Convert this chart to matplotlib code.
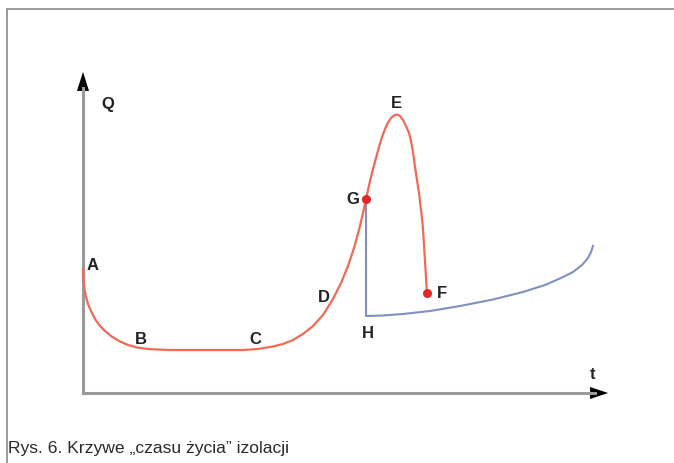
import matplotlib.pyplot as plt
from matplotlib.patches import FancyArrow

# Curve points (t, Q), origin at the axes corner
red_t = [0, 0.5, 1.5, 3, 5, 8, 12, 17, 22, 28, 36, 45, 54, 65, 85, 120,
         160, 175, 190, 200, 210, 220, 230, 240, 250, 258, 265, 271, 276,
         280, 283, 287, 290, 293, 296, 299, 302, 305, 308, 311, 314, 317,
         320, 323, 326, 328, 330, 332, 334, 336, 338, 339.5, 340.5, 341.5,
         342.5, 343.3, 344]
red_q = [124, 114, 104, 96, 89, 82, 74, 67, 62, 57, 52, 48, 45.5, 44, 43,
         43, 43, 44, 46.5, 49, 53, 59, 67, 78, 94, 110, 127, 145, 163, 180,
         194, 212, 224, 235, 246, 256, 264, 270.5, 275, 277.5, 278.5, 277,
         273, 267, 260, 252, 241, 226, 213, 200, 183, 170, 156, 140, 124,
         110, 100]

blue_t = [283, 283, 300, 320, 347, 377, 410, 440, 462, 478, 490, 499, 505,
          508, 510]
blue_q = [194, 77, 77.5, 79, 82, 87, 93.5, 101, 108, 115, 121, 128, 135,
          141, 147]

# marked points G and F
dot_t = [283, 344]
dot_q = [194, 100]

labels = ['A', 'B', 'C', 'D', 'G', 'E', 'F', 'H', 'Q', 't']
label_t = [10, 58, 172, 241, 270, 313, 359, 285, 25, 510]
label_q = [128, 55, 55, 97, 195, 291, 100, 61, 290, 19]

caption = 'Rys. 6. Krzywe „czasu życia” izolacji'

fig = plt.figure(figsize=(6.74, 4.64), dpi=100)
ax = fig.add_axes([0, 0, 1, 1])
ax.set_xlim(-83, 591)
ax.set_ylim(-70, 394)
ax.axis('off')

# outer frame
ax.plot([-76, -76, 600], [-80, 384, 384], color='#8a8a8a', lw=1.2,
        solid_joinstyle='miter')

# axes with arrows
ax.plot([0, 0], [0, 305], color='#9a9a9a', lw=2.2)
ax.plot([0, 512], [0, 0], color='#9a9a9a', lw=2.2)
ax.add_patch(FancyArrow(0, 302, 0, 0.1, width=0, head_width=12, head_length=19,
                        length_includes_head=False, color='black', lw=0))
ax.add_patch(FancyArrow(507, 0, 0.1, 0, width=0, head_width=12, head_length=18,
                        length_includes_head=False, color='black', lw=0))

ax.plot(blue_t, blue_q, color='#8090c0', lw=1.5, solid_joinstyle='round')
ax.plot(red_t, red_q, color='#f06a55', lw=1.6, solid_joinstyle='round')
ax.plot(dot_t, dot_q, 'o', color='#e02828', ms=6.5, mec='none')

for lab, lt, lq in zip(labels, label_t, label_q):
    ax.text(lt, lq, lab, fontsize=12, color='#222222', ha='center', va='center',
            family='Liberation Sans', fontweight='bold')

ax.text(-75, -55, caption, fontsize=12.6, color='#2a2a2a', ha='left',
        va='center', family='Liberation Sans')

fig.savefig('out.png', dpi=100)
